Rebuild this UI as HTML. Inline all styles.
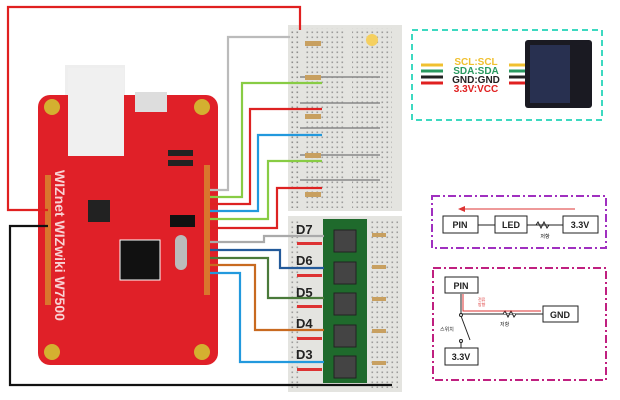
<!DOCTYPE html><html><head><style>body{margin:0;background:#fff}svg{display:block}text{font-family:"Liberation Sans","Noto Sans CJK KR",sans-serif}</style></head><body>
<svg width="620" height="400" viewBox="0 0 620 400" xmlns="http://www.w3.org/2000/svg">
<defs><pattern id="dots" width="5" height="5" patternUnits="userSpaceOnUse"><rect x="1.5" y="1.5" width="1.6" height="1.6" fill="#555"/></pattern></defs>
<rect width="620" height="400" fill="#fff"/>
<!-- breadboards -->
<rect x="288" y="25" width="114" height="186" fill="#e4e4e0"/>
<rect x="288" y="216" width="114" height="176" fill="#e4e4e0"/>
<rect x="291" y="28" width="10" height="180" fill="url(#dots)" opacity=".6"/>
<rect x="306" y="28" width="40" height="180" fill="url(#dots)" opacity=".5"/>
<rect x="352" y="28" width="40" height="180" fill="url(#dots)" opacity=".5"/>
<rect x="291" y="220" width="10" height="168" fill="url(#dots)" opacity=".5"/>
<rect x="370" y="220" width="28" height="168" fill="url(#dots)" opacity=".5"/>
<g stroke="#888" stroke-width="1.5">
<line x1="300" y1="77" x2="380" y2="77"/><line x1="300" y1="103" x2="380" y2="103"/><line x1="300" y1="128" x2="380" y2="128"/><line x1="300" y1="155" x2="380" y2="155"/><line x1="300" y1="180" x2="380" y2="180"/>
</g>
<g fill="#c8a060"><rect x="305" y="41" width="16" height="5"/><rect x="305" y="75" width="16" height="5"/><rect x="305" y="114" width="16" height="5"/><rect x="305" y="153" width="16" height="5"/><rect x="305" y="192" width="16" height="5"/>
<rect x="372" y="233" width="14" height="4"/><rect x="372" y="265" width="14" height="4"/><rect x="372" y="297" width="14" height="4"/><rect x="372" y="329" width="14" height="4"/><rect x="372" y="361" width="14" height="4"/></g>
<circle cx="372" cy="40" r="6" fill="#f5d060"/>
<rect x="323" y="219" width="44" height="164" fill="#1f6a2c"/>
<g fill="#444" stroke="#222"><rect x="334" y="230" width="22" height="22"/><rect x="334" y="262" width="22" height="22"/><rect x="334" y="293" width="22" height="22"/><rect x="334" y="325" width="22" height="22"/><rect x="334" y="356" width="22" height="22"/></g>
<g fill="#d33"><rect x="297" y="242" width="25" height="3"/><rect x="297" y="274" width="25" height="3"/><rect x="297" y="305" width="25" height="3"/><rect x="297" y="337" width="25" height="3"/><rect x="297" y="368" width="25" height="3"/></g>
<g font-size="13" font-weight="bold" fill="#222"><text x="296" y="234">D7</text><text x="296" y="265">D6</text><text x="296" y="297">D5</text><text x="296" y="328">D4</text><text x="296" y="359">D3</text></g>
<!-- board -->
<rect x="65" y="65" width="60" height="95" fill="#eee"/>
<rect x="38" y="95" width="180" height="270" rx="12" fill="#e02028"/>
<rect x="68" y="68" width="56" height="88" fill="#f0f0f0"/>
<rect x="135" y="92" width="32" height="20" fill="#ddd"/>
<g fill="#d4b030"><circle cx="52" cy="107" r="8"/><circle cx="202" cy="107" r="8"/><circle cx="52" cy="352" r="8"/><circle cx="202" cy="352" r="8"/></g>
<rect x="88" y="200" width="22" height="22" fill="#222"/>
<rect x="120" y="240" width="40" height="40" fill="#111" stroke="#fff"/>
<rect x="175" y="235" width="12" height="35" rx="6" fill="#bbb"/>
<rect x="170" y="215" width="25" height="12" fill="#111"/>
<rect x="168" y="150" width="25" height="6" fill="#222"/>
<rect x="168" y="160" width="25" height="6" fill="#222"/>
<g fill="#d4b030"><rect x="45" y="175" width="6" height="130" opacity=".6"/><rect x="204" y="165" width="6" height="130" opacity=".6"/></g>
<text x="55" y="170" font-size="14" font-weight="bold" fill="#fff" transform="rotate(90 55 170)" opacity=".8">WIZnet WIZwiki W7500</text>
<!-- wires -->
<g fill="none" stroke-width="2.2">
<polyline points="48,210 8,210 8,7 300,7 300,30" stroke="#e02020"/>
<polyline points="48,226 10,226 10,385 392,385" stroke="#111"/>
<polyline points="210,190 228,190 228,37 290,37" stroke="#bbb"/>
<polyline points="210,197 242,197 242,83 322,83" stroke="#8c4"/>
<polyline points="210,204 250,204 250,109 322,109" stroke="#d22"/>
<polyline points="210,211 258,211 258,135 322,135" stroke="#29d"/>
<polyline points="210,219 268,219 268,161 322,161" stroke="#8c4"/>
<polyline points="210,228 277,228 277,188 322,188" stroke="#d22"/>
<polyline points="210,242 264,242 264,236 324,236" stroke="#aaa"/>
<polyline points="210,250 280,250 280,268 324,268" stroke="#235a9a"/>
<polyline points="210,258 268,258 268,298 324,298" stroke="#4a7a3a"/>
<polyline points="210,265 255,265 255,330 324,330" stroke="#c86a20"/>
<polyline points="210,273 240,273 240,362 324,362" stroke="#29d"/>
</g>
<!-- right panel -->
<rect x="412" y="30" width="190" height="90" fill="none" stroke="#3dd9c0" stroke-width="2" stroke-dasharray="6,4"/>
<g stroke-width="3"><line x1="421" y1="65" x2="528" y2="65" stroke="#f0c030"/><line x1="421" y1="71" x2="528" y2="71" stroke="#2a9a60"/><line x1="421" y1="77" x2="528" y2="77" stroke="#222"/><line x1="421" y1="83" x2="528" y2="83" stroke="#e02020"/></g>
<rect x="443" y="57" width="66" height="34" fill="#fff"/>
<g font-size="10" font-weight="bold" text-anchor="middle"><text x="476" y="65" fill="#f0c030">SCL:SCL</text><text x="476" y="74" fill="#2a9a60">SDA:SDA</text><text x="476" y="83" fill="#222">GND:GND</text><text x="476" y="92" fill="#e02020">3.3V:VCC</text></g>
<rect x="525" y="40" width="67" height="68" rx="3" fill="#1a1a22"/>
<rect x="530" y="45" width="40" height="58" fill="#283050"/>
<rect x="432" y="196" width="174" height="52" fill="none" stroke="#a030c0" stroke-width="2" stroke-dasharray="8,3,2,3"/>
<line x1="575" y1="209" x2="462" y2="209" stroke="#d33"/><path d="M458 209l7-3v6z" fill="#d33"/>
<g stroke="#222" fill="#fff"><line x1="478" y1="225" x2="563" y2="225"/><rect x="443" y="216" width="35" height="17"/><rect x="495" y="216" width="32" height="17"/><rect x="563" y="216" width="35" height="17"/></g>
<path d="M536 225l2-3 3 6 3-6 3 6 2-3" stroke="#222" fill="none"/>
<g font-size="9" font-weight="bold" text-anchor="middle" fill="#222"><text x="460" y="228">PIN</text><text x="511" y="228">LED</text><text x="580" y="228">3.3V</text></g>
<text x="545" y="238" font-size="5" text-anchor="middle">저항</text>
<rect x="433" y="268" width="173" height="112" fill="none" stroke="#c02080" stroke-width="2" stroke-dasharray="8,3,2,3"/>
<g stroke="#222" fill="none"><line x1="461" y1="294" x2="461" y2="314"/><line x1="461" y1="314" x2="543" y2="314"/><line x1="461" y1="316" x2="470" y2="340"/><line x1="461" y1="342" x2="461" y2="348"/></g>
<path d="M503 314l2-3 3 6 3-6 3 6 2-3" stroke="#222" fill="#fff"/>
<polyline points="463,294 463,311 541,311" stroke="#d33" fill="none"/>
<g stroke="#222" fill="#fff"><rect x="445" y="277" width="33" height="16"/><rect x="543" y="306" width="35" height="16"/><rect x="445" y="348" width="33" height="17"/><circle cx="461" cy="315" r="1.5"/><circle cx="461" cy="341" r="1.5"/></g>
<g font-size="9" font-weight="bold" text-anchor="middle" fill="#222"><text x="461" y="289">PIN</text><text x="560" y="318">GND</text><text x="461" y="360">3.3V</text></g>
<g font-size="5" fill="#222"><text x="440" y="331">스위치</text><text x="500" y="326">저항</text></g>
<g font-size="4" fill="#d33"><text x="478" y="301">전류</text><text x="478" y="306">방향</text></g>
</svg></body></html>
